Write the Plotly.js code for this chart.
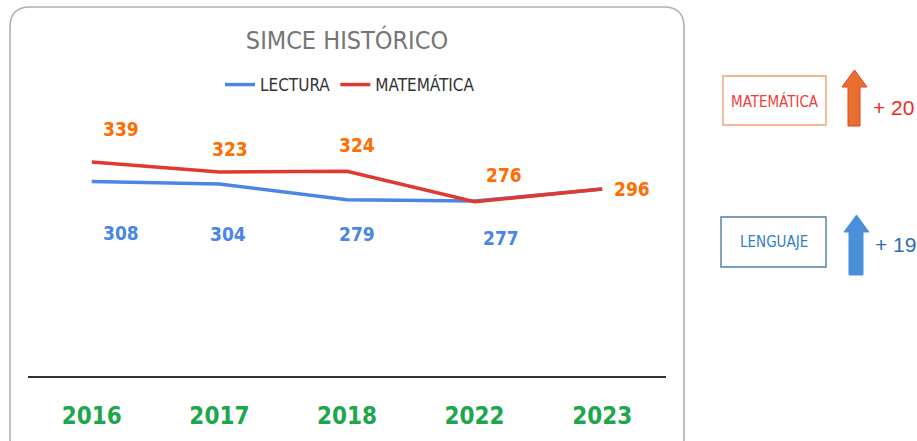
<!DOCTYPE html>
<html>
<head>
<meta charset="utf-8">
<script src="https://cdn.plot.ly/plotly-3.0.1.min.js"></script>
<style>
  html, body { margin: 0; padding: 0; background: #fff; }
  #chart { width: 917px; height: 441px; }
</style>
</head>
<body>
<div id="chart"></div>
<script>
// ---- data ----
const years = ["2016", "2017", "2018", "2022", "2023"];
const lectura = [308, 304, 279, 277, 296];
const matematica = [339, 323, 324, 276, 296];
const seriesNames = ["LECTURA", "MATEMÁTICA"];
const chartTitle = "SIMCE HISTÓRICO";
const sideLabels = ["MATEMÁTICA", "LENGUAJE"];
const sideDeltas = ["+ 20", "+ 19"];

// ---- layout geometry (pixels) ----
const W = 917, Hh = 441;
const L = 28, R = 666, T = 100, B = 376;
const pw = R - L, ph = B - T;
const px = x => (x - L) / pw;
const py = y => (B - y) / ph;
const P = (x, y) => px(x).toFixed(5) + "," + py(y).toFixed(5);

const NARROW = "Liberation Sans Narrow, Arial Narrow, DejaVu Sans Condensed, sans-serif";

// label offsets (pixels) relative to the point
const matOff = [[29, -33], [11, -23], [10, -26], [29, -27], [30, 0]];
const lecOff = [[29, 52], [9, 50], [10, 34], [26, 37], null];

const annotations = [];
matematica.forEach((v, i) => {
  const o = matOff[i];
  annotations.push({
    x: i, y: v, xref: "x", yref: "y", text: String(v), showarrow: false,
    xshift: o[0], yshift: -o[1], xanchor: "center", yanchor: "middle",
    font: { family: NARROW, size: 19, color: "#ff6d01", weight: "bold" }
  });
});
lectura.forEach((v, i) => {
  const o = lecOff[i];
  if (!o) return;
  annotations.push({
    x: i, y: v, xref: "x", yref: "y", text: String(v), showarrow: false,
    xshift: o[0], yshift: -o[1], xanchor: "center", yanchor: "middle",
    font: { family: NARROW, size: 19, color: "#4a86e8", weight: "bold" }
  });
});

// side boxes text
annotations.push({
  xref: "paper", yref: "paper", x: px(774.5), y: py(101), text: sideLabels[0], showarrow: false,
  xanchor: "center", yanchor: "middle", font: { family: NARROW, size: 15, color: "#f03c3c" }
});
annotations.push({
  xref: "paper", yref: "paper", x: px(773.5), y: py(242), text: sideLabels[1], showarrow: false,
  xanchor: "center", yanchor: "middle", font: { family: NARROW, size: 15, color: "#2f7fc8" }
});
annotations.push({
  xref: "paper", yref: "paper", x: px(871), y: py(107), text: sideDeltas[0], showarrow: false,
  xanchor: "left", yanchor: "middle", font: { family: "Liberation Sans, Arial, sans-serif", size: 21, color: "#f02a20" }
});
annotations.push({
  xref: "paper", yref: "paper", x: px(873), y: py(244), text: sideDeltas[1], showarrow: false,
  xanchor: "left", yanchor: "middle", font: { family: "Liberation Sans, Arial, sans-serif", size: 21, color: "#2a70b8" }
});

function roundRect(x0, y0, x1, y1, r) {
  return "M" + P(x0 + r, y0) +
    " L" + P(x1 - r, y0) + " Q" + P(x1, y0) + " " + P(x1, y0 + r) +
    " L" + P(x1, y1 - r) + " Q" + P(x1, y1) + " " + P(x1 - r, y1) +
    " L" + P(x0 + r, y1) + " Q" + P(x0, y1) + " " + P(x0, y1 - r) +
    " L" + P(x0, y0 + r) + " Q" + P(x0, y0) + " " + P(x0 + r, y0) + " Z";
}
function arrowPath(tipX, tipY, hl, hr, hb, sl, sr, bot) {
  return "M" + P(tipX, tipY) + " L" + P(hr, hb) + " L" + P(sr, hb) + " L" + P(sr, bot) +
    " L" + P(sl, bot) + " L" + P(sl, hb) + " L" + P(hl, hb) + " Z";
}

const shapes = [
  { type: "path", xref: "paper", yref: "paper", path: roundRect(10, 7, 684, 458, 20),
    line: { color: "#b0b0b0", width: 1.6 }, fillcolor: "rgba(0,0,0,0)", layer: "below" },
  { type: "rect", xref: "paper", yref: "paper", x0: px(723), x1: px(826), y0: py(125), y1: py(76),
    line: { color: "#f2a070", width: 1.4 }, fillcolor: "rgba(0,0,0,0)" },
  { type: "rect", xref: "paper", yref: "paper", x0: px(721), x1: px(826), y0: py(267), y1: py(217),
    line: { color: "#4f7f9f", width: 1.4 }, fillcolor: "rgba(0,0,0,0)" },
  { type: "path", xref: "paper", yref: "paper", path: arrowPath(854.5, 70, 842, 867, 87, 848, 860, 126),
    line: { color: "#f03a22", width: 1 }, fillcolor: "#e8702e" },
  { type: "path", xref: "paper", yref: "paper", path: arrowPath(856.5, 215, 844, 869, 232, 849, 863, 275),
    line: { color: "#4a90d9", width: 1 }, fillcolor: "#4a90d9" }
];

const traces = [
  { x: years, y: lectura, name: seriesNames[0], type: "scatter", mode: "lines",
    line: { color: "#4a86e8", width: 3.5 }, hoverinfo: "skip" },
  { x: years, y: matematica, name: seriesNames[1], type: "scatter", mode: "lines",
    line: { color: "#e0392f", width: 3.5 }, hoverinfo: "skip" }
];

const layout = {
  width: W, height: Hh,
  margin: { l: L, r: W - R, t: T, b: Hh - B, pad: 0 },
  paper_bgcolor: "#ffffff", plot_bgcolor: "rgba(0,0,0,0)",
  title: { text: chartTitle, x: 0.5, xref: "paper", y: 1 - 40 / Hh, yref: "container",
    xanchor: "center", yanchor: "middle",
    font: { family: NARROW, size: 25, color: "#757575" } },
  showlegend: true,
  legend: { orientation: "h", x: px(350), xanchor: "center", y: py(85), yanchor: "middle",
    font: { family: NARROW, size: 17, color: "#333333" }, bgcolor: "rgba(0,0,0,0)" },
  xaxis: { type: "category", range: [-0.5, 4.5], showgrid: false, zeroline: false,
    showline: true, linecolor: "#333333", linewidth: 1.5, ticks: "", ticklabelstandoff: 18,
    tickfont: { family: NARROW, size: 24, color: "#1ea64c", weight: "bold" }, fixedrange: true },
  yaxis: { range: [0, 437], showgrid: false, zeroline: false, showline: false,
    showticklabels: false, ticks: "", fixedrange: true },
  annotations: annotations,
  shapes: shapes
};

Plotly.newPlot("chart", traces, layout, { displayModeBar: false, staticPlot: true });
</script>
</body>
</html>
